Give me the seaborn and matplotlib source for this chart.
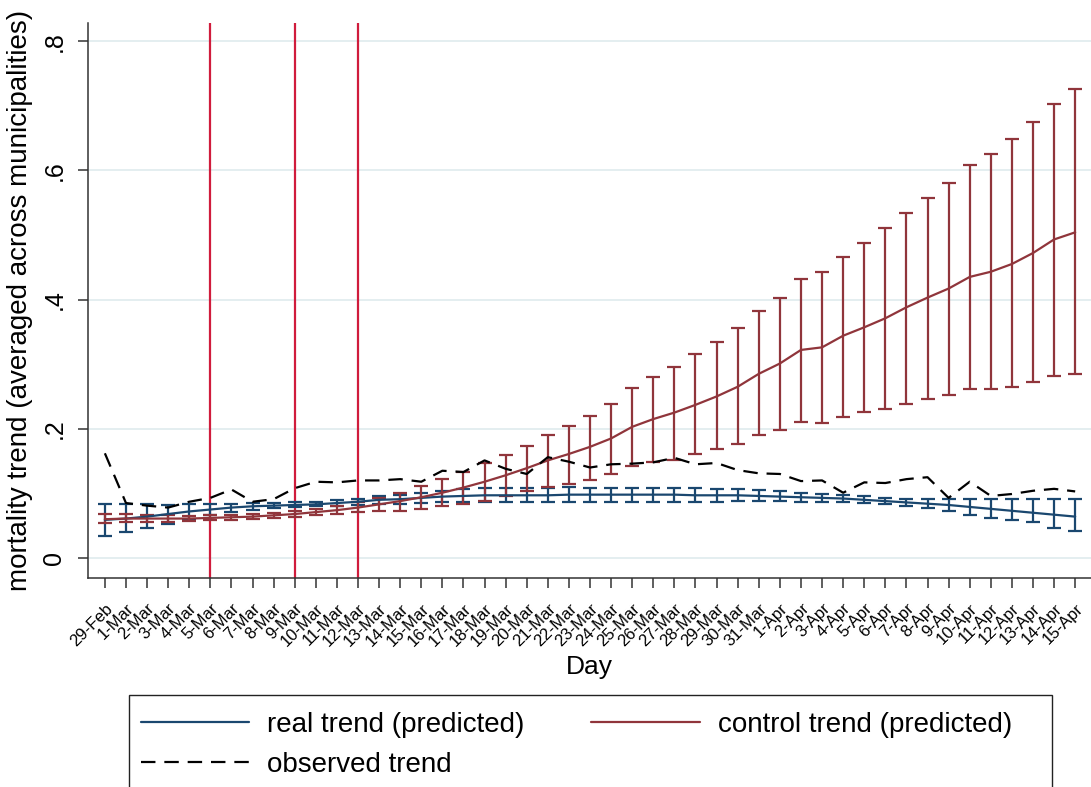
import numpy as np
import pandas as pd
import matplotlib
matplotlib.use("Agg")
import matplotlib.pyplot as plt
from matplotlib.lines import Line2D
from matplotlib.patches import Rectangle
import seaborn as sns

# -----------------------------------------------------------------------------
# data
# -----------------------------------------------------------------------------
days = ["29-Feb",
        "1-Mar", "2-Mar", "3-Mar", "4-Mar", "5-Mar", "6-Mar", "7-Mar", "8-Mar",
        "9-Mar", "10-Mar", "11-Mar", "12-Mar", "13-Mar", "14-Mar", "15-Mar",
        "16-Mar", "17-Mar", "18-Mar", "19-Mar", "20-Mar", "21-Mar", "22-Mar",
        "23-Mar", "24-Mar", "25-Mar", "26-Mar", "27-Mar", "28-Mar", "29-Mar",
        "30-Mar", "31-Mar",
        "1-Apr", "2-Apr", "3-Apr", "4-Apr", "5-Apr", "6-Apr", "7-Apr", "8-Apr",
        "9-Apr", "10-Apr", "11-Apr", "12-Apr", "13-Apr", "14-Apr", "15-Apr"]

real = [0.059, 0.061, 0.064, 0.068, 0.072, 0.075, 0.078, 0.080, 0.081, 0.082,
        0.083, 0.085, 0.087, 0.090, 0.091, 0.093, 0.095, 0.096, 0.097, 0.097,
        0.097, 0.097, 0.098, 0.098, 0.098, 0.098, 0.098, 0.098, 0.097, 0.097,
        0.097, 0.096, 0.095, 0.094, 0.093, 0.092, 0.090, 0.088, 0.086, 0.084,
        0.082, 0.079, 0.076, 0.073, 0.070, 0.067, 0.064]
real_lo = [0.034, 0.040, 0.046, 0.052, 0.059, 0.066, 0.071, 0.075, 0.077, 0.079,
           0.080, 0.081, 0.082, 0.084, 0.084, 0.085, 0.086, 0.086, 0.086, 0.086,
           0.086, 0.086, 0.086, 0.087, 0.087, 0.087, 0.087, 0.087, 0.087, 0.087,
           0.088, 0.088, 0.088, 0.087, 0.087, 0.086, 0.085, 0.084, 0.081, 0.078,
           0.073, 0.067, 0.062, 0.059, 0.055, 0.047, 0.042]
real_hi = [0.083, 0.083, 0.083, 0.082, 0.083, 0.083, 0.084, 0.085, 0.085, 0.086,
           0.087, 0.089, 0.092, 0.096, 0.098, 0.101, 0.104, 0.106, 0.108, 0.108,
           0.109, 0.109, 0.110, 0.109, 0.109, 0.109, 0.109, 0.109, 0.108, 0.107,
           0.106, 0.105, 0.104, 0.101, 0.099, 0.098, 0.096, 0.093, 0.091, 0.091,
           0.092, 0.092, 0.092, 0.092, 0.092, 0.092, 0.092]

control = [0.060, 0.061, 0.061, 0.061, 0.061, 0.062, 0.063, 0.064, 0.066, 0.068,
           0.071, 0.074, 0.078, 0.083, 0.088, 0.094, 0.101, 0.109, 0.118, 0.128,
           0.139, 0.151, 0.161, 0.172, 0.185, 0.203, 0.215, 0.225, 0.237, 0.250,
           0.265, 0.285, 0.301, 0.322, 0.326, 0.344, 0.357, 0.371, 0.388, 0.403,
           0.417, 0.435, 0.443, 0.455, 0.472, 0.493, 0.504]
control_lo = [0.054, 0.055, 0.055, 0.055, 0.057, 0.058, 0.059, 0.060, 0.062, 0.064,
              0.066, 0.068, 0.071, 0.073, 0.073, 0.076, 0.080, 0.083, 0.088, 0.096,
              0.104, 0.110, 0.115, 0.120, 0.130, 0.142, 0.149, 0.152, 0.161, 0.168,
              0.177, 0.191, 0.198, 0.211, 0.209, 0.218, 0.226, 0.231, 0.238, 0.246,
              0.252, 0.261, 0.262, 0.265, 0.273, 0.282, 0.285]
control_hi = [0.068, 0.068, 0.067, 0.066, 0.065, 0.066, 0.067, 0.068, 0.070, 0.072,
              0.076, 0.080, 0.086, 0.093, 0.101, 0.111, 0.122, 0.133, 0.147, 0.160,
              0.174, 0.190, 0.205, 0.220, 0.238, 0.263, 0.280, 0.296, 0.316, 0.334,
              0.356, 0.382, 0.403, 0.432, 0.443, 0.466, 0.488, 0.511, 0.534, 0.557,
              0.581, 0.608, 0.625, 0.648, 0.675, 0.703, 0.726]

observed = [0.162, 0.085, 0.081, 0.078, 0.087, 0.093, 0.106, 0.087, 0.091, 0.108,
            0.118, 0.117, 0.120, 0.120, 0.122, 0.118, 0.135, 0.133, 0.151, 0.138,
            0.130, 0.156, 0.149, 0.140, 0.145, 0.146, 0.148, 0.155, 0.145, 0.147,
            0.136, 0.131, 0.130, 0.119, 0.120, 0.101, 0.117, 0.116, 0.122, 0.125,
            0.093, 0.118, 0.096, 0.099, 0.104, 0.107, 0.103]

policy_days = ["5-Mar", "9-Mar", "12-Mar"]

yticks = [0, 0.2, 0.4, 0.6, 0.8]
ytick_labels = ["0", ".2", ".4", ".6", ".8"]

df = pd.DataFrame({"day": days, "real": real, "real_lo": real_lo, "real_hi": real_hi,
                   "control": control, "control_lo": control_lo,
                   "control_hi": control_hi, "observed": observed})
df["pos"] = np.arange(len(df))

# -----------------------------------------------------------------------------
# style
# -----------------------------------------------------------------------------
sns.set_theme(style="white")
plt.rcParams["font.family"] = ["Liberation Sans", "DejaVu Sans"]
plt.rcParams["text.color"] = "black"
plt.rcParams["axes.labelcolor"] = "black"
plt.rcParams["xtick.color"] = "black"
plt.rcParams["ytick.color"] = "black"

BLUE = "#1a476f"
RED = "#90353b"
VLINE = "#d01c3c"
DASH = (6.5, 4)

W, H = 1091, 787
fig = plt.figure(figsize=(W / 100, H / 100), dpi=100)
ax = fig.add_axes([88 / W, 1 - 578 / H, 1 - 88 / W, (578 - 23) / H])

# confidence intervals
for col, color in [("real", BLUE), ("control", RED)]:
    yerr = [df[col] - df[col + "_lo"], df[col + "_hi"] - df[col]]
    ax.errorbar(df["pos"], df[col], yerr=yerr, fmt="none", ecolor=color,
                elinewidth=1.6, capsize=5, capthick=1.6, zorder=3)

# predicted trends + observed trend
sns.lineplot(data=df, x="pos", y="real", color=BLUE, linewidth=1.6, ax=ax, zorder=4)
sns.lineplot(data=df, x="pos", y="control", color=RED, linewidth=1.6, ax=ax, zorder=4)
sns.lineplot(data=df, x="pos", y="observed", color="black", linewidth=1.6,
             ax=ax, zorder=5)
ax.lines[-1].set_dashes(DASH)

# policy lines
for d in policy_days:
    ax.axvline(days.index(d), color=VLINE, linewidth=1.6, zorder=2)

# -----------------------------------------------------------------------------
# axes
# -----------------------------------------------------------------------------
ax.set_xlim(-0.8, 46.75)
ax.set_ylim(-0.031, 0.828)
ax.set_xticks(df["pos"])
ax.set_xticklabels(days, rotation=45, ha="right", rotation_mode="anchor", fontsize=12)
ax.set_yticks(yticks)
ax.set_yticklabels(ytick_labels, rotation=90, va="center", fontsize=18)
ax.tick_params(axis="both", which="both", direction="out", length=7.5, width=1.1,
               color="#333333", bottom=True, left=True)
ax.tick_params(axis="x", pad=9)
ax.tick_params(axis="y", pad=8)

ax.grid(axis="y", color="#e4eef0", linewidth=1.4)
ax.grid(axis="x", visible=False)
ax.set_axisbelow(True)

for side in ["top", "right"]:
    ax.spines[side].set_visible(False)
for side in ["left", "bottom"]:
    ax.spines[side].set_color("#333333")
    ax.spines[side].set_linewidth(1.1)

ax.set_xlabel("Day", fontsize=19, labelpad=4)
ax.set_ylabel("mortality trend (averaged across municipalities)", fontsize=20, labelpad=7)

# legend below; its box runs off the bottom of the picture
fig.patches.append(Rectangle((129 / W, -0.05), (1052 - 129) / W, 0.05 + 1 - 695 / H,
                             transform=fig.transFigure, fill=False,
                             edgecolor="#222222", linewidth=1.0))
handles = [Line2D([], [], color=BLUE, linewidth=1.6),
           Line2D([], [], color="black", linewidth=1.6, dashes=DASH),
           Line2D([], [], color=RED, linewidth=1.6)]
labels = ["real trend (predicted)", "observed trend", "control trend (predicted)"]
fig.legend(handles, labels, loc="upper left", ncol=2,
           bbox_to_anchor=(141 / W, 1 - 712 / H),
           fontsize=20, frameon=False, handlelength=3.9,
           handletextpad=0.65, labelspacing=0.5, borderpad=0,
           columnspacing=2.4, borderaxespad=0)

fig.savefig("out.png", dpi=100)
